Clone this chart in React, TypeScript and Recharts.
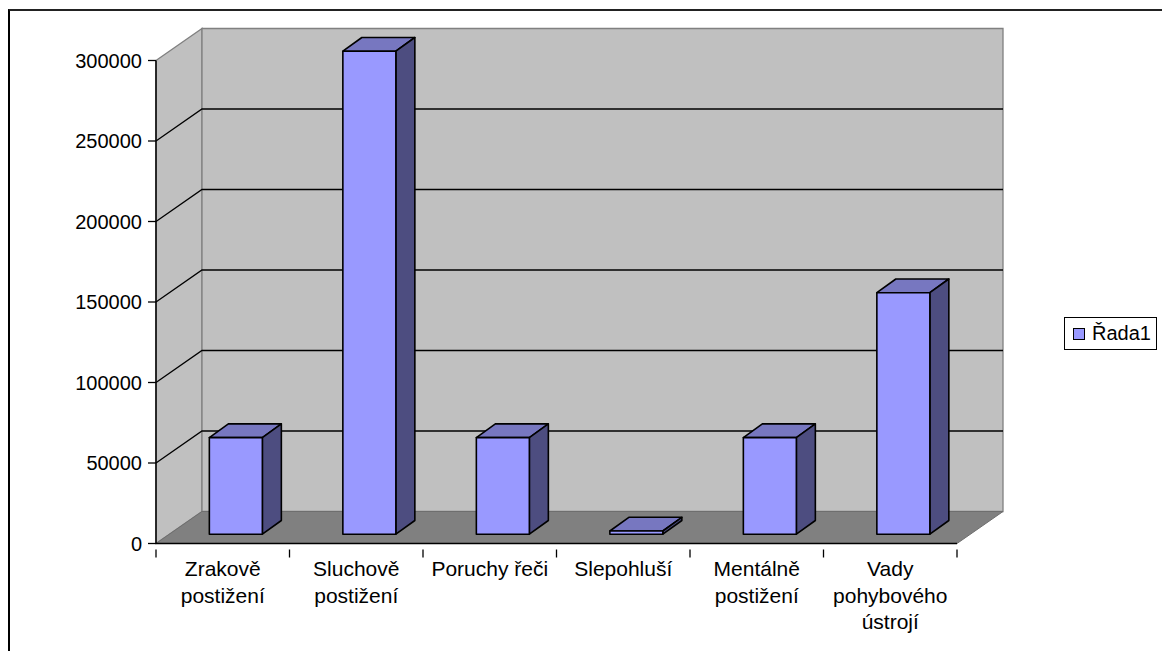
import React from 'react';
import { BarChart, Bar, XAxis, YAxis, CartesianGrid, Legend, Text } from 'recharts';

const CATEGORIES = ['Zrakově postižení', 'Sluchově postižení', 'Poruchy řeči', 'Slepohluší', 'Mentálně postižení', 'Vady pohybového ústrojí'];
const VALUES = [60000, 300000, 60000, 2000, 60000, 150000];
const Y_TICKS = [0, 50000, 100000, 150000, 200000, 250000, 300000];
const SERIES_NAME = 'Řada1';

const data = CATEGORIES.map((name, i) => ({ name, value: VALUES[i] }));

const FONT = '"Liberation Sans", Arial, sans-serif';
const FONT_SIZE = 20;
const CATEGORY_FONT_SIZE = 21;
const WALL_DX = 46;
const WALL_DY = 32;
const BAR_DX = 19;
const BAR_DY = 13.7;

// the walls and floor go in with the first grid line so they stay behind the rest of the grid
const renderGridLine = ({ x, y, width, height, y1, index }: any) => {
  const r = x + width;
  const b = y + height;
  const inside = y1 > y + 1 && y1 < b - 1;
  return (
    <g key={`grid-${index}`}>
      {index === 0 && (
        <g>
          <polygon points={`${x},${y} ${x + WALL_DX},${y - WALL_DY} ${x + WALL_DX},${b - WALL_DY} ${x},${b}`} fill="#c0c0c0" stroke="#808080" strokeWidth={1.3} />
          <polygon points={`${x + WALL_DX},${y - WALL_DY} ${r + WALL_DX},${y - WALL_DY} ${r + WALL_DX},${b - WALL_DY} ${x + WALL_DX},${b - WALL_DY}`} fill="#c0c0c0" stroke="#808080" strokeWidth={1.3} />
          <polygon points={`${x},${b} ${r},${b} ${r + WALL_DX},${b - WALL_DY} ${x + WALL_DX},${b - WALL_DY}`} fill="#808080" stroke="#6e6e6e" strokeWidth={1} />
        </g>
      )}
      {inside && (
        <polyline
          points={`${x},${y1} ${x + WALL_DX},${y1 - WALL_DY} ${r + WALL_DX},${y1 - WALL_DY}`}
          fill="none"
          stroke="#000"
          strokeWidth={1.3}
        />
      )}
    </g>
  );
};

const Box3D = ({ x, y, width, height }: any) => {
  const fx = x + 13.3;
  const fy = y - 9.3;
  const r = fx + width;
  const b = fy + height;
  const stroke = { stroke: '#000', strokeWidth: 1.6, strokeLinejoin: 'round' as const };
  return (
    <g>
      <polygon points={`${fx},${fy} ${fx + BAR_DX},${fy - BAR_DY} ${r + BAR_DX},${fy - BAR_DY} ${r},${fy}`} fill="#7777c0" {...stroke} />
      <polygon points={`${r},${fy} ${r + BAR_DX},${fy - BAR_DY} ${r + BAR_DX},${b - BAR_DY} ${r},${b}`} fill="#4d4d80" {...stroke} />
      <rect x={fx} y={fy} width={width} height={height} fill="#9999ff" {...stroke} />
    </g>
  );
};

const CategoryTick = ({ x, y, payload, index }: any) => {
  const half = 801 / CATEGORIES.length / 2;
  return (
    <g>
      <line x1={x - half} y1={y - 8} x2={x - half} y2={y} stroke="#000" strokeWidth={1.3} />
      {index === CATEGORIES.length - 1 && <line x1={x + half} y1={y - 8} x2={x + half} y2={y} stroke="#000" strokeWidth={1.3} />}
      <Text
        x={x}
        y={y + 4}
        width={125}
        textAnchor="middle"
        verticalAnchor="start"
        lineHeight="26.5px"
        style={{ fontSize: CATEGORY_FONT_SIZE, fontFamily: FONT }}
        fill="#000"
      >
        {payload.value}
      </Text>
    </g>
  );
};

const LegendBox = () => (
  <div style={{ width: 93, height: 33, boxSizing: 'border-box', border: '1px solid #000', background: '#fff', display: 'flex', alignItems: 'center', paddingLeft: 8, fontFamily: FONT, fontSize: FONT_SIZE, color: '#000' }}>
    <span style={{ width: 12, height: 12, boxSizing: 'border-box', background: '#9999ff', border: '1px solid #000', marginRight: 7 }} />
    {SERIES_NAME}
  </div>
);

export default function App() {
  return (
    <div style={{ position: 'absolute', left: 0, top: 0, width: 1162, height: 651, background: '#fff', overflow: 'hidden' }}>
      <div style={{ position: 'absolute', left: 8, top: 9, width: 1154, height: 642, borderLeft: '2px solid #000', borderTop: '2px solid #222', boxSizing: 'border-box' }} />
      <BarChart
        width={1162}
        height={651}
        data={data}
        barCategoryGap="30%"
        margin={{ top: 60.5, right: 112, bottom: 0, left: 0 }}
        style={{ position: 'absolute', left: 0, top: 0 }}
      >
        <CartesianGrid vertical={false} horizontal={renderGridLine} />
        <XAxis
          dataKey="name"
          interval={0}
          tickLine={false}
          tickMargin={8}
          axisLine={{ stroke: '#000', strokeWidth: 1.5 }}
          tick={(p: any) => <CategoryTick {...p} />}
          height={107.5}
        />
        <YAxis
          type="number"
          domain={[0, 300000]}
          ticks={Y_TICKS}
          interval={0}
          width={156}
          tickSize={8}
          tickMargin={6}
          axisLine={{ stroke: '#000', strokeWidth: 1.5 }}
          tickLine={{ stroke: '#000', strokeWidth: 1.3 }}
          tick={{ fill: '#000', fontSize: FONT_SIZE, fontFamily: FONT }}
        />
        <Bar dataKey="value" name={SERIES_NAME} isAnimationActive={false} shape={(p: any) => <Box3D {...p} />} />
        <Legend content={<LegendBox />} layout="vertical" align="right" verticalAlign="top" wrapperStyle={{ position: 'absolute', left: 1064, top: 317, width: 93, right: 'auto' }} />
      </BarChart>
    </div>
  );
}
